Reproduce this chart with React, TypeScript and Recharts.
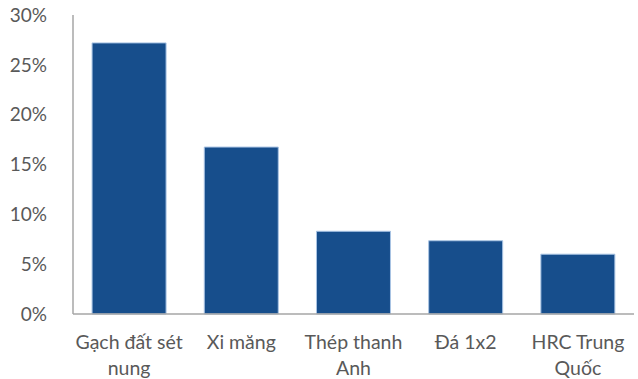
import { BarChart, Bar, XAxis, YAxis } from "recharts";

const categories = ["Gạch đất sét\nnung", "Xi măng", "Thép thanh\nAnh", "Đá 1x2", "HRC Trung\nQuốc"];
const shares = [0.272, 0.1675, 0.083, 0.0735, 0.06];
const yTicks = [0, 0.05, 0.1, 0.15, 0.2, 0.25, 0.3];

const data = categories.map((name, i) => ({ name, value: shares[i] }));

const FONT = "Lato, 'Noto Sans', sans-serif";

const XTick = ({ x, y, payload }: any) => {
  const lines = String(payload.value).split("\n");
  return (
    <text x={x} y={y} textAnchor="middle" fill="#595959" fontSize={19.5} fontFamily={FONT}>
      {lines.map((l: string, i: number) => (
        <tspan key={i} x={x} dy={i === 0 ? 27 : 26}>
          {l}
        </tspan>
      ))}
    </text>
  );
};

export default function App() {
  return (
    <div style={{ position: "absolute", left: 0, top: 0, background: "#fff" }}>
      <BarChart
        width={638}
        height={379}
        data={data}
        margin={{ top: 15, right: 4, bottom: 0, left: 0 }}
        barCategoryGap="17%"
      >
        <XAxis
          dataKey="name"
          height={65}
          axisLine={{ stroke: "#A6A6A6", strokeWidth: 1.5 }}
          tickLine={false}
          interval={0}
          tick={<XTick />}
        />
        <YAxis
          width={73}
          domain={[0, 0.3]}
          ticks={yTicks}
          tickFormatter={(v: number) => `${Math.round(v * 100)}%`}
          axisLine={{ stroke: "#A6A6A6", strokeWidth: 1.5 }}
          tickLine={false}
          tickMargin={20}
          tick={{ fill: "#595959", fontSize: 19, fontFamily: FONT }}
        />
        <Bar dataKey="value" fill="#174E8C" stroke="#A9C4E4" strokeWidth={1} isAnimationActive={false} />
      </BarChart>
    </div>
  );
}
